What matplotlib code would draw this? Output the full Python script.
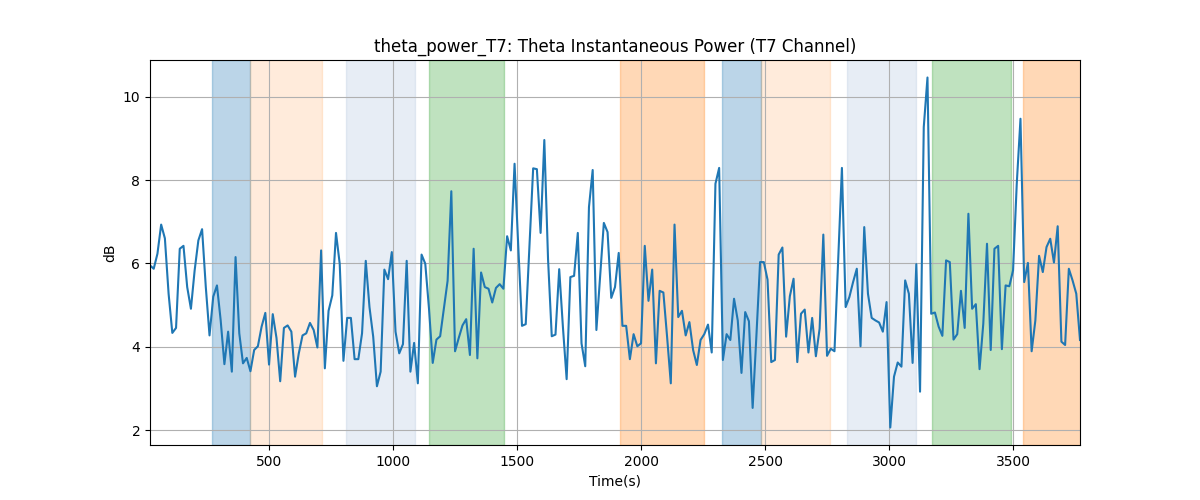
import numpy as np
import matplotlib
matplotlib.use("Agg")
import matplotlib.pyplot as plt

# sample times (s), one sample every 15 s
t_start = 20
t_step = 15

theta_db = [
    5.95, 5.87, 6.23, 6.93, 6.6, 5.27, 4.33, 4.45, 6.35, 6.42,
    5.43, 4.91, 5.83, 6.55, 6.82, 5.43, 4.27, 5.2, 5.47, 4.63,
    3.58, 4.36, 3.4, 6.15, 4.32, 3.6, 3.73, 3.41, 3.92, 4.01,
    4.48, 4.81, 3.57, 4.78, 4.21, 3.17, 4.45, 4.51, 4.36, 3.28,
    3.84, 4.27, 4.32, 4.57, 4.4, 3.98, 6.31, 3.48, 4.86, 5.23,
    6.73, 5.99, 3.66, 4.69, 4.69, 3.7, 3.7, 4.32, 6.06, 4.95,
    4.24, 3.05, 3.4, 5.85, 5.62, 6.27, 4.36, 3.84, 4.06, 6.06,
    3.4, 4.09, 3.12, 6.21, 5.99, 4.91, 3.61, 4.17, 4.25, 4.91,
    5.58, 7.73, 3.89, 4.21, 4.51, 4.66, 3.8, 6.35, 3.72, 5.78,
    5.43, 5.39, 5.06, 5.41, 5.5, 5.39, 6.65, 6.31, 8.39, 6.4,
    4.5, 4.54, 6.4, 8.28, 8.26, 6.73, 8.96, 6.1, 4.25, 4.29,
    5.86, 4.47, 3.22, 5.67, 5.7, 6.73, 4.08, 3.53, 7.35, 8.24,
    4.4, 5.67, 6.97, 6.75, 5.17, 5.43, 6.25, 4.5, 4.5, 3.7,
    4.3, 4.01, 4.08, 6.42, 5.1, 5.85, 3.6, 5.34, 5.3, 4.24,
    3.12, 6.93, 4.71, 4.86, 4.27, 4.59, 3.92, 3.56, 4.16, 4.3,
    4.53, 3.86, 7.91, 8.29, 3.68, 4.3, 4.16, 5.15, 4.63, 3.37,
    4.83, 4.61, 2.53, 4.24, 6.03, 6.03, 5.61, 3.63, 3.68, 6.21,
    6.38, 4.24, 5.21, 5.63, 3.63, 4.79, 4.89, 3.86, 4.69, 3.77,
    4.43, 6.69, 3.78, 3.95, 3.89, 6.07, 8.29, 4.95, 5.19, 5.55,
    5.87, 4.01, 6.87, 5.27, 4.69, 4.63, 4.58, 4.36, 5.07, 2.06,
    3.28, 3.62, 3.52, 5.59, 5.27, 3.61, 5.98, 2.92, 9.27, 10.46,
    4.79, 4.82, 4.48, 4.26, 6.07, 6.03, 4.17, 4.3, 5.34, 4.45,
    7.19, 4.91, 5.02, 3.46, 4.55, 6.47, 3.92, 6.35, 6.42, 3.94,
    5.47, 5.45, 5.83, 7.91, 9.47, 5.55, 6.01, 3.89, 4.63, 6.18,
    5.79, 6.39, 6.59, 6.02, 6.89, 4.12, 4.04, 5.87, 5.59, 5.27,
    4.16,
]

# shaded task segments (start, end, color, alpha)
seg_start = [269, 425, 809, 1144, 1914, 2327, 2482, 2830, 3172, 3539]
seg_end = [425, 715, 1090, 1449, 2253, 2482, 2760, 3110, 3490, 3780]
seg_color = ['tab:blue', 'tab:orange', 'lightsteelblue', 'tab:green', 'tab:orange',
             'tab:blue', 'tab:orange', 'lightsteelblue', 'tab:green', 'tab:orange']
seg_alpha = [0.3, 0.15, 0.3, 0.3, 0.3, 0.3, 0.15, 0.3, 0.3, 0.3]

times = t_start + t_step * np.arange(len(theta_db))

plt.figure(figsize=(12, 5))
for s, e, c, a in zip(seg_start, seg_end, seg_color, seg_alpha):
    plt.axvspan(s, e, color=c, alpha=a)
plt.plot(times, theta_db, color='tab:blue', linewidth=1.5)
plt.xlim(times[0], times[-1])
plt.xlabel("Time(s)")
plt.ylabel("dB")
plt.title("theta_power_T7: Theta Instantaneous Power (T7 Channel)")
plt.grid(True)
plt.savefig("out.png", dpi=100)
